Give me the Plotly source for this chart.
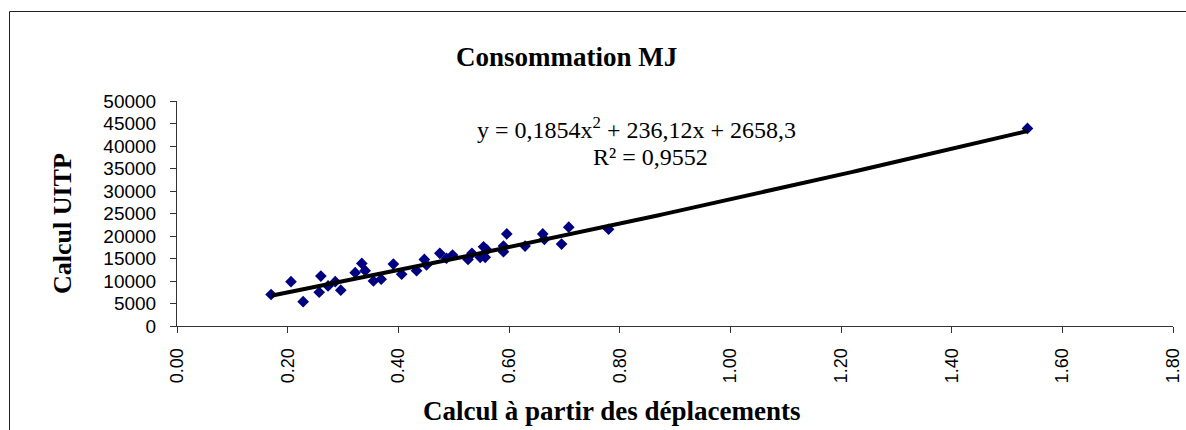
import numpy as np
import plotly.graph_objects as go

# Energy consumption (MJ): estimate from trips vs. UITP method
calc_deplacements = [0.170, 0.206, 0.228, 0.257, 0.260, 0.273, 0.286, 0.296, 0.322, 0.334,
                     0.340, 0.355, 0.369, 0.391, 0.406, 0.433, 0.447, 0.451, 0.475, 0.487,
                     0.498, 0.526, 0.533, 0.548, 0.554, 0.557, 0.560, 0.590, 0.590, 0.596,
                     0.629, 0.661, 0.664, 0.695, 0.708, 0.780, 1.537]
calc_uitp = [7000, 9850, 5400, 7500, 11100, 8900, 9850, 7950, 11850, 13900,
             12300, 10000, 10400, 13750, 11500, 12300, 14800, 13550, 16150, 15050,
             15750, 14800, 16150, 15250, 17600, 15250, 16900, 16500, 17750, 20450,
             17750, 20450, 19250, 18200, 21950, 21500, 43900]

# Polynomial trendline (order 2); the fit variable is the axis value x 100
poly_a, poly_b, poly_c = 0.1854, 236.12, 2658.3
r_squared = 0.9552

y_ticks = list(range(0, 50001, 5000))
x_ticks = [round(0.2 * i, 2) for i in range(10)]

trend_x = np.linspace(min(calc_deplacements), max(calc_deplacements), 200)
trend_u = trend_x * 100
trend_y = poly_a * trend_u ** 2 + poly_b * trend_u + poly_c

SERIF = "Liberation Serif, Times New Roman, serif"
SANS = "Liberation Sans, Arial, sans-serif"

fig = go.Figure()
fig.add_trace(go.Scatter(
    x=calc_deplacements, y=calc_uitp, mode="markers",
    marker=dict(symbol="diamond", size=9, color="#000080",
                line=dict(width=0)),
    showlegend=False, hoverinfo="x+y"))
fig.add_trace(go.Scatter(
    x=trend_x, y=trend_y, mode="lines",
    line=dict(color="black", width=4),
    showlegend=False, hoverinfo="skip"))

# plot area spans x 177..1173 px, y 101..326 px
L, R, T, B = 177, 1173, 101, 326
W_PLOT, H_PLOT = R - L, B - T


def px_x(px):
    return (px - L) / W_PLOT


def px_y(py):
    return (B - py) / H_PLOT


def label(text, x, y, size, angle=0):
    return dict(text=text, xref="paper", yref="paper", x=px_x(x), y=px_y(y),
                xanchor="center", yanchor="middle", textangle=angle,
                showarrow=False, font=dict(family=SERIF, size=size, color="black"))


def fr(v):
    return str(v).replace(".", ",")


fig.update_layout(
    width=1186, height=430,
    margin=dict(l=L, r=1186 - R, t=T, b=430 - B),
    paper_bgcolor="white", plot_bgcolor="white",
    xaxis=dict(range=[0, 1.8], tickvals=x_ticks, tickformat=".2f",
               tickangle=-90, ticks="outside", ticklen=6, tickcolor="#333",
               showline=True, linecolor="#333", linewidth=1, automargin=False,
               showgrid=False, zeroline=False, ticklabelstandoff=8,
               tickfont=dict(family=SANS, size=18, color="black")),
    yaxis=dict(range=[0, 50000], tickvals=y_ticks, tickformat="d",
               ticks="outside", ticklen=6, tickcolor="#333",
               showline=True, linecolor="#333", linewidth=1, automargin=False,
               showgrid=False, zeroline=False, ticklabelstandoff=10,
               tickfont=dict(family=SANS, size=19, color="black")),
    shapes=[dict(type="rect", xref="paper", yref="paper",
                 x0=px_x(9.5), x1=px_x(1200), y0=px_y(440), y1=px_y(11.5),
                 line=dict(color="#222", width=1), fillcolor="rgba(0,0,0,0)",
                 layer="below")],
    annotations=[
        label("<b>Consommation MJ</b>", 566, 57, 27),
        label("<b>Calcul UITP</b>", 62, 224, 26, angle=-90),
        label("<b>Calcul à partir des déplacements</b>", 611, 411, 27),
        label(f"y = {fr(poly_a)}x<sup>2</sup> + {fr(poly_b)}x + {fr(poly_c)}", 636, 128, 24),
        label(f"R² = {fr(r_squared)}", 650, 157, 24),
    ],
)

fig.write_html("out.html")
